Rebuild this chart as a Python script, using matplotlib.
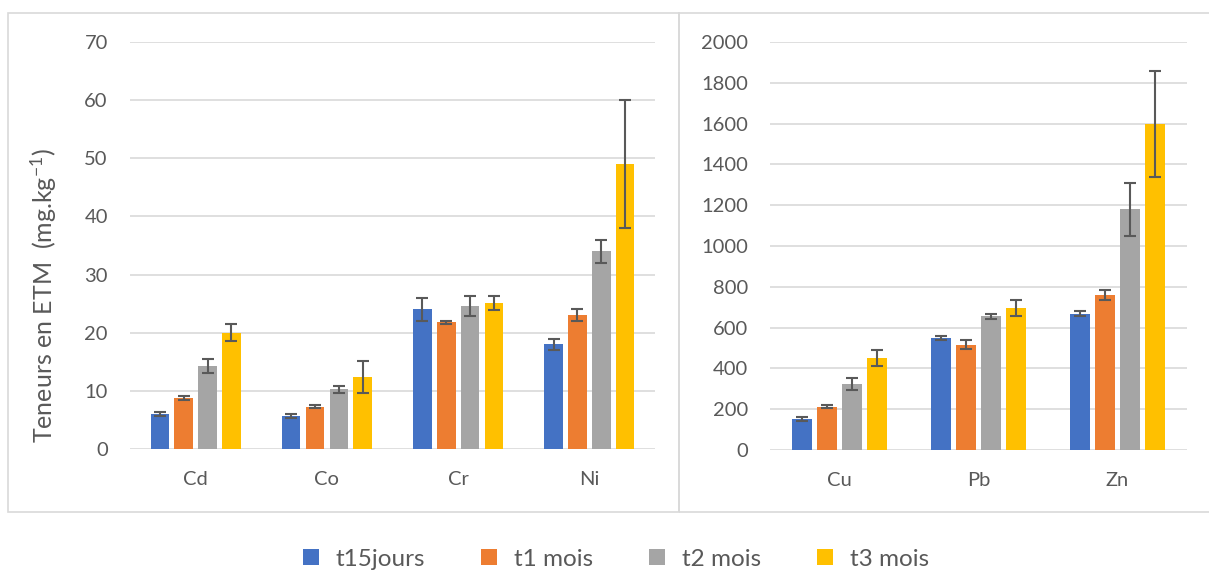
import numpy as np
import matplotlib
matplotlib.use("Agg")
from matplotlib import pyplot as plt
from matplotlib.patches import Rectangle

plt.rcParams['font.family'] = ['Lato', 'DejaVu Sans']
plt.rcParams['mathtext.fontset'] = 'custom'
plt.rcParams['mathtext.rm'] = 'Lato'
plt.rcParams['mathtext.default'] = 'regular'

series = ['t15jours', 't1 mois', 't2 mois', 't3 mois']
colors = ['#4472C4', '#ED7D31', '#A5A5A5', '#FFC000']

# left panel
elems_a = ['Cd', 'Co', 'Cr', 'Ni']
vals_a = [
    [6.0, 5.7, 24.0, 18.0],
    [8.8, 7.3, 21.8, 23.0],
    [14.2, 10.3, 24.6, 34.0],
    [20.0, 12.4, 25.1, 49.0],
]
err_a = [
    [0.4, 0.4, 2.0, 1.0],
    [0.4, 0.2, 0.3, 1.0],
    [1.2, 0.6, 1.7, 2.0],
    [1.5, 2.7, 1.2, 11.0],
]

# right panel
elems_b = ['Cu', 'Pb', 'Zn']
vals_b = [
    [150, 550, 668],
    [212, 515, 758],
    [325, 655, 1180],
    [450, 695, 1600],
]
err_b = [
    [10, 10, 12],
    [8, 22, 25],
    [30, 12, 130],
    [40, 38, 260],
]

fig = plt.figure(figsize=(12.09, 5.74), dpi=100)

# panel frames (pixel coords -> figure fraction)
W, H = 1209.0, 574.0
fig.patches.append(Rectangle((8 / W, 1 - 512 / H), (679 - 8) / W, (512 - 13) / H,
                             transform=fig.transFigure, fill=False,
                             edgecolor='#D9D9D9', lw=1.2))
fig.patches.append(Rectangle((679 / W, 1 - 512 / H), (1215 - 679) / W, (512 - 13) / H,
                             transform=fig.transFigure, fill=False,
                             edgecolor='#D9D9D9', lw=1.2))

ax1 = fig.add_axes([130 / W, 1 - 449 / H, 525 / W, 407 / H])
ax2 = fig.add_axes([770 / W, 1 - 450 / H, 417 / W, 408 / H])

width = 0.141
step = 0.181


def draw(ax, elems, vals, errs, ymax, ystep):
    x = np.arange(len(elems))
    for i in range(len(series)):
        off = (i - 1.5) * step
        ax.bar(x + off, vals[i], width, color=colors[i], label=series[i], zorder=2)
        ax.errorbar(x + off, vals[i], yerr=errs[i], fmt='none', ecolor='#595959',
                    elinewidth=1.5, capsize=4, capthick=1.5, zorder=3)
    ax.set_xlim(-0.5, len(elems) - 0.5)
    ax.set_ylim(0, ymax)
    ax.set_yticks(np.arange(0, ymax + 1, ystep))
    ax.set_xticks(x)
    ax.set_xticklabels(elems)
    ax.grid(axis='y', color='#D9D9D9', lw=1.2, zorder=0)
    ax.set_axisbelow(True)
    for s in ['top', 'right', 'left', 'bottom']:
        ax.spines[s].set_visible(False)
    ax.tick_params(axis='both', length=0, labelsize=14.5, colors='#595959')
    ax.tick_params(axis='y', pad=16)
    ax.tick_params(axis='x', pad=16)


draw(ax1, elems_a, vals_a, err_a, 70, 10)
draw(ax2, elems_b, vals_b, err_b, 2000, 200)
ax1.set_ylabel('Teneurs en ETM  (mg.kg$^{-1}$)', fontsize=18, color='#595959')
ax1.yaxis.set_label_coords(-0.135, 0.378)

handles, labels = ax1.get_legend_handles_labels()
fig.legend(handles, labels, loc='center', ncol=4, frameon=False,
           bbox_to_anchor=(616 / W, 1 - 559 / H), fontsize=17.5,
           handlelength=0.65, handleheight=0.65, columnspacing=2.3,
           handletextpad=0.7, labelcolor='#595959')

fig.savefig('out.png', dpi=100)
